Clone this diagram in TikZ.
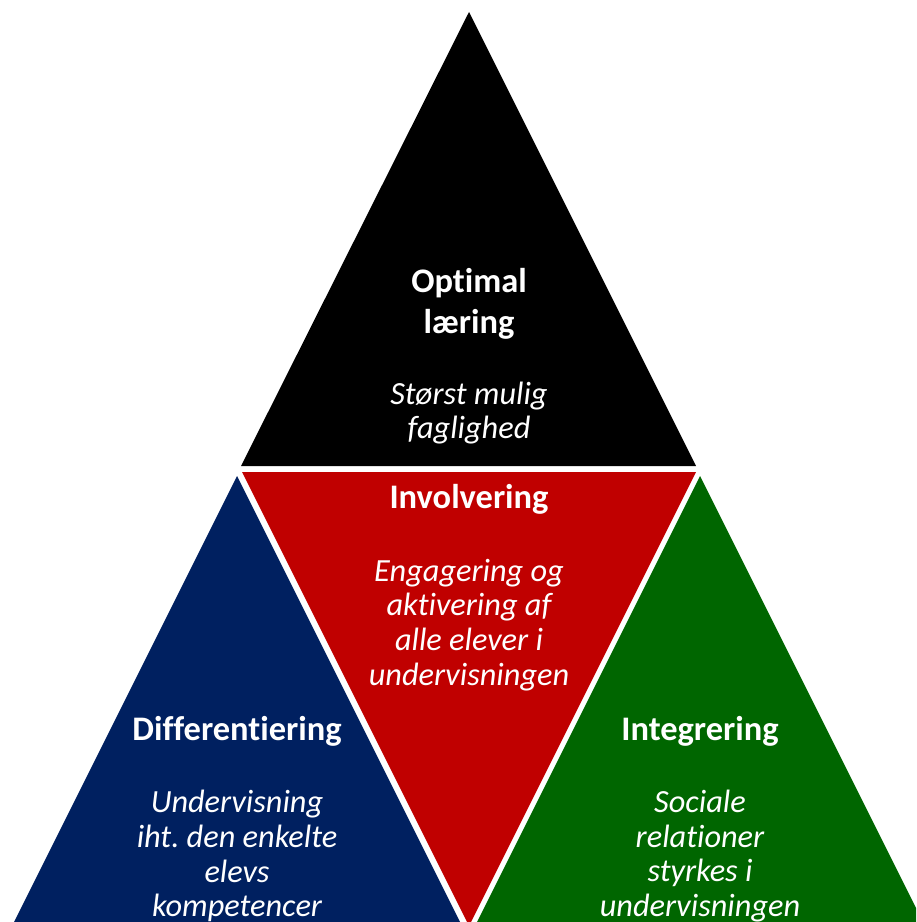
\documentclass[tikz,border=0pt]{standalone}
\usepackage{fontspec}
\setmainfont{Carlito}[Ligatures=NoCommon]
\usepackage{tikz}
\usetikzlibrary{positioning}
\frenchspacing
\definecolor{tophue}{HTML}{000000}
\definecolor{midhue}{HTML}{C00000}
\definecolor{lefthue}{HTML}{002060}
\definecolor{righthue}{HTML}{006600}
\tikzset{
	x=0.02cm, y=-0.02cm, % one unit is one pixel of the layout
	tri/.style={draw=none}, % the coloured triangles
	title/.style={text=white, align=center, font=\fontsize{19.6}{23}\selectfont\bfseries}, % heading in each triangle
	desc/.style={text=white, align=center, font=\fontsize{18.4}{19.8}\selectfont\itshape}, % text below the heading
}

\begin{document}
\begin{tikzpicture}
		\useasboundingbox (0,0) rectangle (916,922);
		\clip (0,0) rectangle (916,922);
		% triangles
		\fill[tri,tophue] (469,12) -- (241,466) -- (696,466) -- cycle;
		\fill[tri,midhue] (242,472) -- (696,472) -- (469,926) -- cycle;
		\fill[tri,lefthue] (237,476) -- (10,930) -- (464,930) -- cycle;
		\fill[tri,righthue] (700,476) -- (473,930) -- (927,930) -- cycle;
		
		% texts
		\node[title] (opt) at (469,304) {Optimal\\læring};
		\node[desc] (optd) at (469,413) {Størst mulig\\faglighed};
		\node[title] (inv) at (469,499) {Involvering};
		\node[desc] (invd) at (469,625) {Engagering og\\aktivering af\\alle elever i\\undervisningen};
		\node[title] (dif) at (237,731) {Differentiering};
		\node[desc] (difd) at (237,856) {Undervisning\\iht. den enkelte\\elevs\\kompetencer};
		\node[title] (int) at (700,731) {Integrering};
		\node[desc] (intd) at (700,856) {Sociale\\relationer\\styrkes i\\undervisningen};
	\end{tikzpicture}
\end{document}
